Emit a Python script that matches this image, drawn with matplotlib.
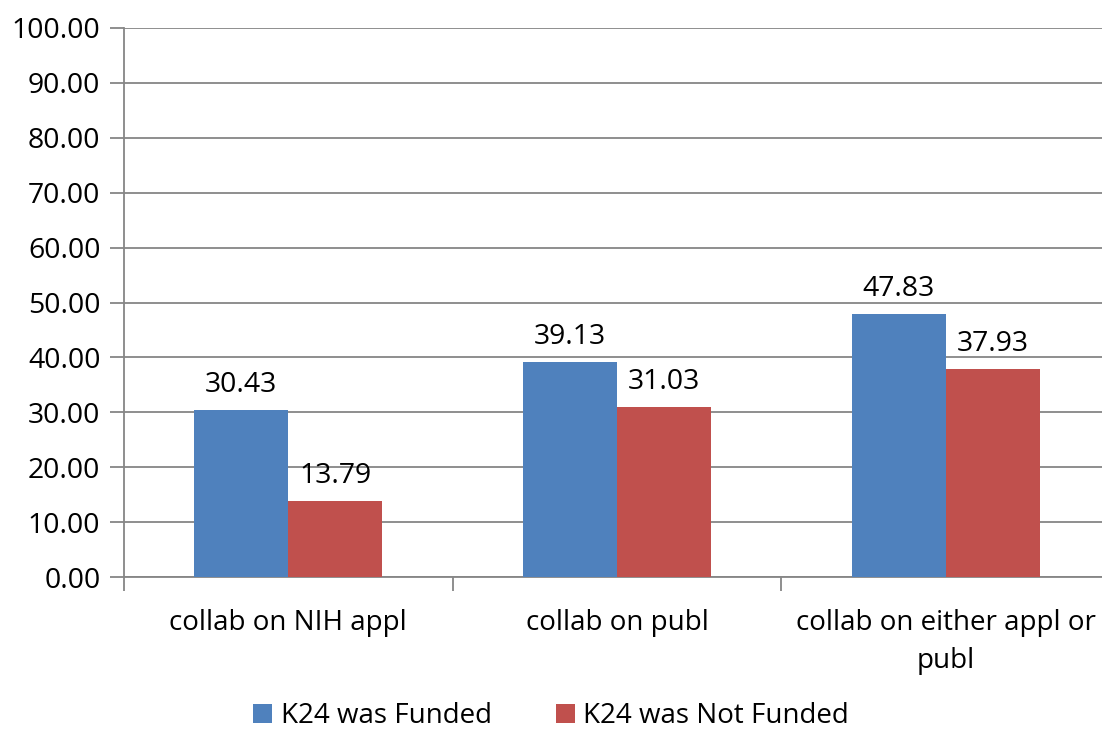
import matplotlib
matplotlib.use("Agg")
import matplotlib.pyplot as plt
import numpy as np

categories = ["collab on NIH appl", "collab on publ", "collab on either appl or\npubl"]
series_names = ["K24 was Funded", "K24 was Not Funded"]
funded = [30.43, 39.13, 47.83]
not_funded = [13.79, 31.03, 37.93]
yticks = [0, 10, 20, 30, 40, 50, 60, 70, 80, 90, 100]

colors = ["#4F81BD", "#C0504D"]
grid_c = "#868686"
plt.rcParams['font.family'] = ['Open Sans', 'DejaVu Sans']
FS = 20.4

fig = plt.figure(figsize=(11.02, 7.30), dpi=100)
W, H = 1102, 730
x0, x1 = 124, 1110
y0, y1 = 577, 28
ax = fig.add_axes([x0 / W, 1 - y0 / H, (x1 - x0) / W, (y0 - y1) / H])

x = np.arange(len(categories))
bw = 0.286
for i, (vals, c, name) in enumerate(zip([funded, not_funded], colors, series_names)):
    pos = x + (i - 0.5) * bw
    ax.bar(pos, vals, width=bw, color=c, label=name, zorder=3)
    for p, v in zip(pos, vals):
        ax.annotate(f"{v:.2f}", (p, v), xytext=(0, 11), textcoords="offset pixels",
                    ha="center", va="bottom", fontsize=FS, zorder=4)

ax.set_xlim(-0.5, len(categories) - 0.5)
ax.set_ylim(0, 100)
ax.set_yticks(yticks)
ax.set_yticklabels([f"{t:.2f}" for t in yticks], fontsize=FS)
ax.yaxis.grid(True, color=grid_c, linewidth=1.3, zorder=0)
ax.set_axisbelow(True)

ax.set_xticks(np.arange(len(categories) + 1) - 0.5)
ax.set_xticklabels([])
ax.set_xticks(x, minor=True)
ax.set_xticklabels(categories, minor=True, fontsize=20, linespacing=1.5)
ax.tick_params(axis="x", which="minor", length=0, pad=23)
ax.tick_params(axis="x", which="major", length=10, width=1.3, color=grid_c)
ax.tick_params(axis="y", length=10, width=1.3, color=grid_c, pad=7)

for s in ["top", "right"]:
    ax.spines[s].set_visible(False)
for s in ["left", "bottom"]:
    ax.spines[s].set_color(grid_c)
    ax.spines[s].set_linewidth(1.3)

fig.legend(loc="center", bbox_to_anchor=(0.5, 1 - 716 / H), ncol=2, frameon=False,
           fontsize=20, handlelength=0.7, handleheight=0.7, handletextpad=0.3,
           columnspacing=2.3)

fig.savefig("out.png", dpi=100)
